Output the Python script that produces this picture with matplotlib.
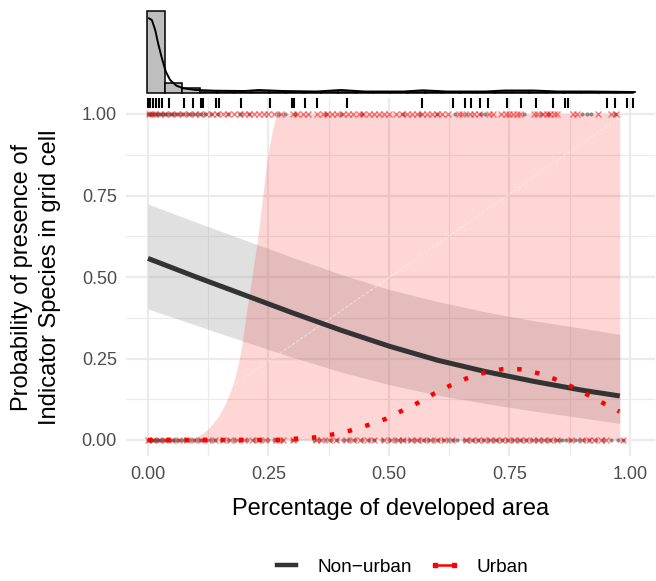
import matplotlib
matplotlib.use('Agg')
import matplotlib.pyplot as plt
from matplotlib.lines import Line2D
from matplotlib.transforms import blended_transform_factory

plt.rcParams['font.family'] = ['Liberation Sans', 'DejaVu Sans']

# ---------------- data ----------------
# Non-urban logistic fit and confidence band
nonurban_fit_x = [0.0, 0.1, 0.2, 0.3, 0.4, 0.5, 0.6, 0.7, 0.8, 0.9, 0.979]
nonurban_fit_y = [0.557, 0.50, 0.445, 0.39, 0.337, 0.288, 0.245, 0.21, 0.18, 0.153, 0.135]
nonurban_fit_lo = [0.402, 0.352, 0.302, 0.254, 0.209, 0.170, 0.138, 0.112, 0.089, 0.068, 0.051]
nonurban_fit_hi = [0.724, 0.668, 0.614, 0.56, 0.508, 0.462, 0.425, 0.393, 0.366, 0.343, 0.324]

# Urban fit (dotted) and its confidence band
urban_fit_x = [0.0, 0.1, 0.2, 0.27, 0.307, 0.346, 0.383, 0.42, 0.457, 0.492, 0.526, 0.56,
               0.592, 0.627, 0.661, 0.697, 0.734, 0.772, 0.809, 0.844, 0.879, 0.913, 0.946, 0.978]
urban_fit_y = [0.0, 0.0, 0.0, 0.0, 0.004, 0.008, 0.017, 0.029, 0.046, 0.064, 0.089, 0.114,
               0.141, 0.167, 0.189, 0.206, 0.217, 0.217, 0.205, 0.187, 0.164, 0.138, 0.112, 0.087]
urban_band_x = [0.0, 0.073, 0.09, 0.1, 0.108, 0.115, 0.13, 0.146, 0.16, 0.172, 0.181, 0.189,
                0.196, 0.203, 0.211, 0.219, 0.229, 0.237, 0.245, 0.251, 0.257, 0.262, 0.267,
                0.272, 0.3, 0.979]
urban_band_hi = [0.0, 0.0, 0.004, 0.008, 0.015, 0.022, 0.042, 0.072, 0.11, 0.153, 0.195, 0.245,
                 0.305, 0.378, 0.455, 0.532, 0.634, 0.735, 0.838, 0.895, 0.941, 0.975, 0.995,
                 1.0, 1.0, 1.0]
urban_band_lo = [0.0] * len(urban_band_x)

# faint white reference line
ref_x = [0.12, 0.979]
ref_y = [0.108, 0.99]

# observed presence (1) / absence (0)
nonurban_one_x = [0.0, 0.003, 0.006, 0.009, 0.012, 0.016, 0.019, 0.023, 0.027, 0.031, 0.035, 0.04,
                  0.045, 0.05, 0.055, 0.061, 0.067, 0.073, 0.08, 0.087, 0.094, 0.102, 0.11, 0.118,
                  0.13, 0.145, 0.165, 0.19, 0.21, 0.27, 0.285, 0.305, 0.37, 0.4, 0.445, 0.53,
                  0.565, 0.6, 0.637, 0.66, 0.69, 0.7, 0.78, 0.815, 0.83, 0.9, 0.91, 0.92, 0.97]
urban_one_x = [0.002, 0.008, 0.015, 0.025, 0.035, 0.048, 0.06, 0.072, 0.085, 0.097, 0.108, 0.12,
               0.132, 0.143, 0.155, 0.166, 0.178, 0.19, 0.2, 0.21, 0.22, 0.23, 0.24, 0.248, 0.262,
               0.275, 0.3, 0.31, 0.322, 0.333, 0.35, 0.363, 0.372, 0.382, 0.392, 0.405, 0.415,
               0.425, 0.437, 0.447, 0.458, 0.468, 0.48, 0.49, 0.5, 0.515, 0.527, 0.537, 0.547,
               0.558, 0.568, 0.578, 0.59, 0.6, 0.61, 0.622, 0.645, 0.652, 0.668, 0.677, 0.686,
               0.708, 0.716, 0.733, 0.742, 0.75, 0.757, 0.765, 0.772, 0.8, 0.808, 0.82, 0.828,
               0.834, 0.842, 0.848, 0.882, 0.89, 0.933, 0.961, 0.972]
nonurban_zero_x = [0.0, 0.002, 0.004, 0.006, 0.009, 0.012, 0.015, 0.018, 0.021, 0.025, 0.029, 0.033,
                   0.037, 0.041, 0.046, 0.051, 0.056, 0.062, 0.068, 0.074, 0.081, 0.088, 0.095,
                   0.103, 0.111, 0.12, 0.13, 0.14, 0.152, 0.165, 0.178, 0.19, 0.205, 0.22, 0.235,
                   0.25, 0.262, 0.278, 0.298, 0.308, 0.345, 0.355, 0.368, 0.38, 0.392, 0.405,
                   0.418, 0.43, 0.445, 0.458, 0.47, 0.485, 0.5, 0.512, 0.522, 0.532, 0.542, 0.552,
                   0.562, 0.572, 0.582, 0.592, 0.602, 0.612, 0.622, 0.632, 0.642, 0.655, 0.665,
                   0.675, 0.685, 0.695, 0.705, 0.715, 0.725, 0.735, 0.745, 0.755, 0.765, 0.775,
                   0.785, 0.795, 0.805, 0.815, 0.825, 0.835, 0.845, 0.852, 0.86, 0.868, 0.876,
                   0.885, 0.895, 0.905, 0.915, 0.93, 0.945, 0.96, 0.975, 0.985]
urban_zero_x = [0.0, 0.01, 0.022, 0.035, 0.05, 0.065, 0.08, 0.095, 0.11, 0.125, 0.14, 0.155, 0.17,
                0.185, 0.2, 0.215, 0.228, 0.242, 0.265, 0.272, 0.28, 0.3, 0.348, 0.36, 0.375, 0.39,
                0.41, 0.425, 0.44, 0.455, 0.47, 0.49, 0.505, 0.518, 0.53, 0.545, 0.558, 0.57,
                0.585, 0.6, 0.615, 0.63, 0.66, 0.672, 0.685, 0.698, 0.71, 0.722, 0.735, 0.748,
                0.76, 0.772, 0.785, 0.798, 0.81, 0.822, 0.835, 0.848, 0.878, 0.9, 0.915, 0.925,
                0.94, 0.95, 0.985]

# rug (top)
rug_x = [0.0, 0.004, 0.01, 0.016, 0.022, 0.03, 0.044, 0.075, 0.094, 0.11, 0.115, 0.141, 0.148,
         0.193, 0.253, 0.298, 0.303, 0.326, 0.35, 0.412, 0.569, 0.633, 0.658, 0.670, 0.689,
         0.706, 0.744, 0.775, 0.806, 0.841, 0.865, 0.871, 0.952, 0.969, 0.993, 1.006]

# marginal histogram + density
hist_edges = [-0.001, 0.035, 0.071, 0.107, 0.143, 0.179, 0.215, 0.251, 0.287, 0.323, 0.359,
              0.395, 0.431, 0.467, 0.503, 0.539, 0.575, 0.611, 0.647, 0.683, 0.719, 0.755,
              0.791, 0.827, 0.863, 0.899, 0.935, 0.971, 1.007]
hist_heights = [82, 10.5, 5, 1.5, 1.5, 1.2, 1.2, 1.5, 1.2, 1.2, 1.2, 1.5, 1.2, 1.2, 1.2, 1.2,
                1.2, 1.5, 1.2, 1.5, 1.5, 1.2, 1.5, 1.2, 1.2, 1.2, 1.2, 1.2]
dens_x = [0.002, 0.008, 0.015, 0.021, 0.028, 0.037, 0.046, 0.059, 0.073, 0.10, 0.14, 0.2, 0.23,
          0.28, 0.35, 0.40, 0.45, 0.53, 0.57, 0.62, 0.70, 0.74, 0.80, 0.85, 0.92, 1.01]
dens_y = [74.7, 73, 63, 49.7, 36.3, 21.3, 13, 7.3, 4.7, 3, 2.3, 2, 3, 2, 1.5, 3, 1.5, 1.5, 2.7,
          1.5, 1.5, 2.5, 2.5, 1.5, 1.5, 1.0]

x_ticks = [0.0, 0.25, 0.5, 0.75, 1.0]
x_ticklabels = ['0.00', '0.25', '0.50', '0.75', '1.00']
y_ticks = [0.0, 0.25, 0.5, 0.75, 1.0]
y_ticklabels = ['0.00', '0.25', '0.50', '0.75', '1.00']
minor_ticks = [0.125, 0.375, 0.625, 0.875]

# ---------------- figure ----------------
W, H = 656, 581
fig = plt.figure(figsize=(W / 100, H / 100), dpi=100)
px_l, px_r, px_t, px_b = 126, 655, 97.7, 456.3
ax = fig.add_axes([px_l / W, 1 - px_b / H, (px_r - px_l) / W, (px_b - px_t) / H])
ax.set_xlim(-0.0456, 1.052)
ax.set_ylim(-0.05, 1.05)
for s in ax.spines.values():
    s.set_visible(False)
ax.set_xticks(x_ticks)
ax.set_xticklabels(x_ticklabels)
ax.set_yticks(y_ticks)
ax.set_yticklabels(y_ticklabels)
ax.set_xticks(minor_ticks, minor=True)
ax.set_yticks(minor_ticks, minor=True)
ax.tick_params(which='both', length=0)
ax.tick_params(axis='x', pad=7, labelsize=13, labelcolor='#4D4D4D')
ax.tick_params(axis='y', pad=6.5, labelsize=13, labelcolor='#4D4D4D')
ax.grid(which='major', color='#EBEBEB', lw=1.6)
ax.grid(which='minor', color='#EBEBEB', lw=0.8)
ax.set_axisbelow(True)

# points
ax.plot(nonurban_one_x, [1.0] * len(nonurban_one_x), 'o', color='#4D4D4D', alpha=0.6,
        ms=3.0, mew=0, zorder=2)
ax.plot(nonurban_zero_x, [0.0] * len(nonurban_zero_x), 'o', color='#4D4D4D', alpha=0.6,
        ms=3.0, mew=0, zorder=2)
ax.plot(urban_one_x, [1.0] * len(urban_one_x), 'x', color='red', alpha=0.5,
        ms=4.3, mew=1.0, zorder=2)
ax.plot(urban_zero_x, [0.0] * len(urban_zero_x), 'x', color='red', alpha=0.5,
        ms=4.3, mew=1.0, zorder=2)

# bands
ax.fill_between(nonurban_fit_x, nonurban_fit_lo, nonurban_fit_hi, color='#999999',
                alpha=0.3, lw=0, zorder=3)
ax.fill_between(urban_band_x, urban_band_lo, urban_band_hi, color='red',
                alpha=0.16, lw=0, zorder=3)
ax.plot(ref_x, ref_y, color='white', lw=0.8, alpha=0.45, linestyle=(0, (3, 1.5)), zorder=3.5)

# fits
ax.plot(nonurban_fit_x, nonurban_fit_y, color='#333333', lw=3.6, solid_capstyle='butt', zorder=4)
ax.plot(urban_fit_x, urban_fit_y, color='red', lw=3.2, linestyle=(0, (1, 3.1)), zorder=4)

# rug on top
trans = blended_transform_factory(ax.transData, ax.transAxes)
ax.vlines(rug_x, 0.97, 1.0, transform=trans, color='black', lw=1.5, zorder=5, clip_on=False)

# marginal histogram
axm = fig.add_axes([px_l / W, 1 - 95 / H, (px_r - px_l) / W, 90 / H])
axm.set_xlim(-0.0456, 1.052)
axm.set_ylim(-2, 88)
axm.axis('off')
lefts = hist_edges[:-1]
widths = [hist_edges[i + 1] - hist_edges[i] for i in range(len(hist_heights))]
axm.bar(lefts, hist_heights, width=widths, align='edge', color='#BEBEBE',
        edgecolor='black', lw=1.1)
axm.plot(dens_x, dens_y, color='black', lw=1.4)

# labels
fig.text(390.5 / W, 1 - 515 / H, 'Percentage of developed area', ha='center', va='baseline',
         fontsize=17, color='black')
fig.text(36 / W, 1 - 277 / H, 'Probability of presence of\nIndicator Species in grid cell',
         ha='center', va='center', rotation=90, fontsize=17, color='black',
         multialignment='center', linespacing=1.3)

# legend
handles = [Line2D([], [], color='#333333', lw=3.2),
           Line2D([], [], color='red', lw=1.8, marker='s', ms=3.2)]
fig.legend(handles, ['Non\u2212urban', 'Urban'], loc='center', ncol=2, frameon=False,
           bbox_to_anchor=(399.5 / W, 1 - 567 / H), fontsize=13.7, handlelength=1.6,
           handletextpad=0.85, columnspacing=0.9, borderpad=0, numpoints=2)

fig.savefig('out.png', dpi=100)
